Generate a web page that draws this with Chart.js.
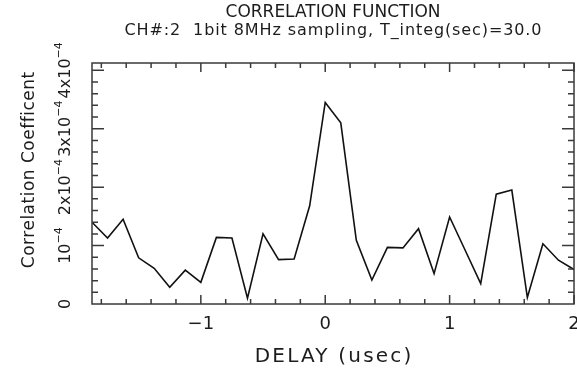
<!DOCTYPE html>
<html>
<head>
<meta charset="utf-8">
<title>Correlation function</title>
<script src="https://cdn.jsdelivr.net/npm/chart.js@4.4.1/dist/chart.umd.min.js"></script>
<style>
  html, body { margin: 0; padding: 0; background: #fff; }
  #wrap { width: 577px; height: 378px; }
</style>
</head>
<body>
<div id="wrap"><canvas id="corr-chart" width="577" height="378"></canvas></div>
<script>
// delay lags (usec), one per 8 MHz sample
const delays = [
  -1.875, -1.75, -1.625, -1.5, -1.375, -1.25, -1.125, -1.0,
  -0.875, -0.75, -0.625, -0.5, -0.375, -0.25, -0.125, 0.0,
  0.125, 0.25, 0.375, 0.5, 0.625, 0.75, 0.875, 1.0,
  1.125, 1.25, 1.375, 1.5, 1.625, 1.75, 1.875, 2.0
];
// correlation coefficient at each lag
const corr = [
  1.40e-4, 1.13e-4, 1.45e-4, 0.79e-4, 0.61e-4, 0.285e-4, 0.58e-4, 0.37e-4,
  1.14e-4, 1.13e-4, 0.10e-4, 1.20e-4, 0.76e-4, 0.77e-4, 1.68e-4, 3.45e-4,
  3.10e-4, 1.09e-4, 0.41e-4, 0.97e-4, 0.96e-4, 1.29e-4, 0.52e-4, 1.49e-4,
  0.92e-4, 0.35e-4, 1.88e-4, 1.95e-4, 0.11e-4, 1.03e-4, 0.75e-4, 0.59e-4
];
const xLabels = [-1, 0, 1, 2];
const yLabelMults = [0, 1, 2, 3, 4];   // multiples of 10^-4

const titleText = 'CORRELATION FUNCTION';
const subtitleText = 'CH#:2  1bit 8MHz sampling, T_integ(sec)=30.0';
const xTitle = 'DELAY (usec)';
const yTitle = 'Correlation Coefficent';

const FONT = '"DejaVu Sans", "Liberation Sans", sans-serif';
const INK = '#1c1c1c';

function spacedText(ctx, text, x, y, size, spacing) {
  ctx.font = size + 'px ' + FONT;
  ctx.letterSpacing = spacing + 'px';
  // letterSpacing adds a trailing gap, shift back by half of it
  ctx.fillText(text, x + spacing / 2, y);
  ctx.letterSpacing = '0px';
}

// frame, inward ticks, rotated y labels, axis titles and the two title lines
const framePlugin = {
  id: 'frame',
  afterDraw(chart) {
    const { ctx, chartArea: { left, right, top, bottom }, scales: { x, y } } = chart;
    ctx.save();
    ctx.strokeStyle = '#3a3a3a';
    ctx.lineWidth = 1.5;
    ctx.strokeRect(left, top, right - left, bottom - top);

    ctx.beginPath();
    for (let k = -9; k <= 10; k++) {
      const px = x.getPixelForValue(k / 5);
      const len = k % 5 === 0 ? 9 : 5;
      ctx.moveTo(px, bottom); ctx.lineTo(px, bottom - len);
      ctx.moveTo(px, top); ctx.lineTo(px, top + len);
    }
    for (let k = 1; k <= 20; k++) {
      const py = y.getPixelForValue(k * 0.2e-4);
      const len = k % 5 === 0 ? 12 : 6;
      ctx.moveTo(left, py); ctx.lineTo(left + len, py);
      ctx.moveTo(right, py); ctx.lineTo(right - len, py);
    }
    ctx.stroke();

    // y tick labels, rotated, with a raised exponent
    ctx.fillStyle = INK;
    ctx.textBaseline = 'middle';
    ctx.textAlign = 'left';
    yLabelMults.forEach(m => {
      const py = y.getPixelForValue(m * 1e-4);
      const main = m === 0 ? '0' : (m === 1 ? '10' : m + 'x10');
      const sup = m === 0 ? '' : '\u22124';
      ctx.font = '16px ' + FONT;
      const wMain = ctx.measureText(main).width;
      ctx.font = '11px ' + FONT;
      const wSup = ctx.measureText(sup).width;
      const start = -(wMain + wSup) / 2;
      ctx.save();
      ctx.translate(66, py);
      ctx.rotate(-Math.PI / 2);
      ctx.font = '16px ' + FONT;
      ctx.fillText(main, start, 0);
      ctx.font = '11px ' + FONT;
      ctx.fillText(sup, start + wMain, -7);
      ctx.restore();
    });

    ctx.textAlign = 'center';
    const cx = (left + right) / 2;
    spacedText(ctx, titleText, cx, 13, 17, 0);
    spacedText(ctx, subtitleText, cx, 31, 16, 0.9);
    spacedText(ctx, xTitle, cx, 357, 20, 2.2);

    ctx.save();
    ctx.translate(30, 170);
    ctx.rotate(-Math.PI / 2);
    spacedText(ctx, yTitle, 0, 0, 17, 0.5);
    ctx.restore();
    ctx.restore();
  }
};

new Chart(document.getElementById('corr-chart'), {
  type: 'line',
  data: {
    datasets: [{
      data: delays.map((d, i) => ({ x: d, y: corr[i] })),
      borderColor: '#111',
      borderWidth: 1.6,
      pointRadius: 0,
      tension: 0,
      fill: false
    }]
  },
  options: {
    responsive: false,
    animation: false,
    layout: { padding: { top: 63, right: 3, left: 0, bottom: 0 } },
    plugins: { legend: { display: false }, tooltip: { enabled: false } },
    scales: {
      x: {
        type: 'linear',
        min: -1.875,
        max: 2,
        grid: { display: false, drawTicks: false },
        border: { display: false },
        afterBuildTicks: axis => { axis.ticks = xLabels.map(v => ({ value: v })); },
        ticks: {
          color: INK,
          padding: 10,
          font: { family: FONT, size: 18 },
          callback: v => (v < 0 ? '\u2212' + Math.abs(v) : String(v))
        },
        afterFit: s => { s.height = 74; s.paddingLeft = 0; s.paddingRight = 0; }
      },
      y: {
        min: 0,
        max: 4.125e-4,
        grid: { display: false, drawTicks: false },
        border: { display: false },
        ticks: { display: false },
        afterFit: s => { s.width = 92; s.paddingTop = 0; s.paddingBottom = 0; }
      }
    }
  },
  plugins: [framePlugin]
});
</script>
</body>
</html>
